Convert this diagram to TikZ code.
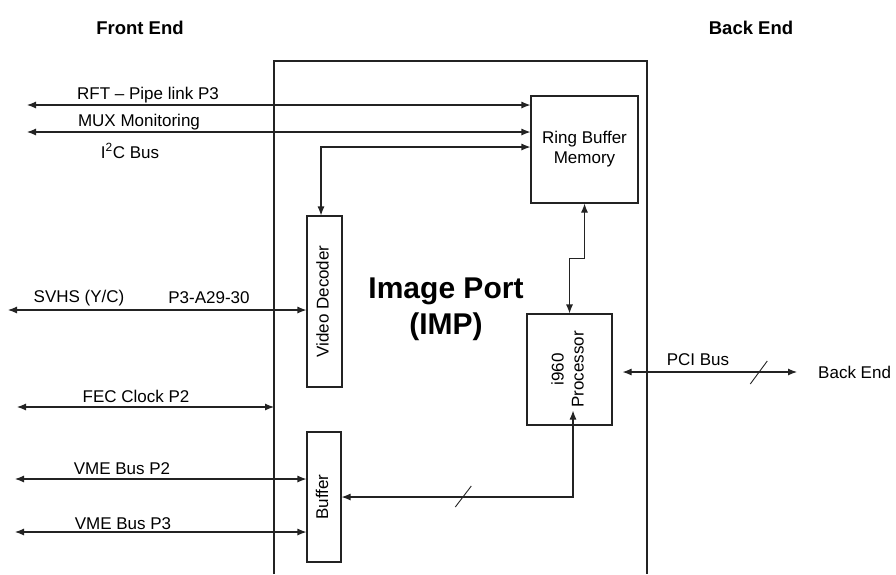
\documentclass[tikz,border=0pt]{standalone}
\usepackage{fontspec}
\setmainfont{Liberation Sans}
\usepackage{graphicx}
\usetikzlibrary{arrows.meta,positioning,calc}
\definecolor{ipedge}{RGB}{35,35,35}
\newcommand{\lblfont}{\fontsize{17}{20}\selectfont}
\newcommand{\hdrfont}{\fontsize{18.5}{22}\selectfont\bfseries}
\newcommand{\vlbl}[1]{\rotatebox{90}{\begin{tabular}{@{}c@{}}#1\end{tabular}}}
\tikzset{
  blk/.style={
    draw=ipedge, line width=1.1pt, inner sep=0pt,
    align=center, font=\lblfont
  },
  arr/.style={-{Latex[length=9pt,width=7pt]}, draw=ipedge, line width=1.1pt},
  darr/.style={{Latex[length=9pt,width=7pt]}-{Latex[length=9pt,width=7pt]},
    draw=ipedge, line width=1.1pt},
  lbl/.style={font=\lblfont, inner sep=0pt},
  hdr/.style={font=\hdrfont, inner sep=0pt},
  slash/.style={draw=ipedge, line width=0.9pt},
  frame/.style={draw=ipedge, line width=1.2pt}
}
\begin{document}
\begin{tikzpicture}[x=1pt, y=-1pt]
  \useasboundingbox (0,0) rectangle (896,574);
  % headings
  \node[hdr] (fe) at (140,28) {Front End};
  \node[hdr] (be) at (751,28) {Back End};
  % board outline (open at the bottom)
  \coordinate (mainnw) at (274,61);
  \coordinate (mainne) at (647,61);
  \draw[frame] (mainnw |- 0,574) -- (mainnw) -- (mainne) -- (mainne |- 0,574);
  \node[font=\fontsize{30}{36}\selectfont\bfseries, align=center, inner sep=0pt]
    (imp) at (446,309) {Image Port\\(IMP)};
  % blocks
  \node[blk, minimum width=107, minimum height=107] (rbm) at (584.5,149.5)
    {Ring Buffer\\Memory};
  \node[blk, minimum width=35, minimum height=171] (vdec) at (324.5,301.5)
    {\vlbl{Video Decoder}};
  \node[blk, minimum width=85, minimum height=111] (proc) at (569.5,369.5)
    {\vlbl{i960\\Processor}};
  \node[blk, minimum width=34, minimum height=130] (buf) at (324,497)
    {\vlbl{Buffer}};
  % front end links
  \coordinate (rftL) at (27,105);
  \coordinate (muxL) at (27,132);
  \coordinate (svL) at (8,310);
  \coordinate (fecL) at (17,407);
  \coordinate (vmeaL) at (15,479);
  \coordinate (vmebL) at (15,532);
  \draw[darr] (rftL) -- (rftL -| rbm.west);
  \draw[darr] (muxL) -- (muxL -| rbm.west);
  \draw[darr] ([xshift=-3.5pt]vdec.north) |- ([yshift=2.5pt]rbm.west);
  \draw[darr] (svL) -- (svL -| vdec.west);
  \draw[darr] (fecL) -- (fecL -| mainnw);
  \draw[darr] (vmeaL) -- (vmeaL -| buf.west);
  \draw[darr] (vmebL) -- (vmebL -| buf.west);
  \node[lbl] (rftT) at (148,95) {RFT -- Pipe link P3};
  \node[lbl] (muxT) at (139,122) {MUX Monitoring};
  \node[lbl] (i2cT) at (130,151) {I\textsuperscript{2}C Bus};
  \node[lbl] (svT) at (79,298) {SVHS (Y/C)};
  \node[lbl] (p3T) at (209,298) {P3-A29-30};
  \node[lbl] (fecT) at (136,396) {FEC Clock P2};
  \node[lbl] (vmeaT) at (122,469) {VME Bus P2};
  \node[lbl] (vmebT) at (123,524) {VME Bus P3};
  % internal links
  \draw[darr] (rbm.south) |- ($(rbm.south)!.5!(proc.north)$) -| (proc.north);
  \draw[darr] ([shift={(3.5pt,15pt)}]proc.south) |- coordinate[pos=0.737] (bsl) (buf.east);
  \draw[slash] ($(bsl)+(-8,10)$) -- ($(bsl)+(8,-11)$);
  % back end link
  \coordinate (pciR) at (797,372);
  \draw[darr, shorten <=10pt] (proc.east |- pciR) -- coordinate[pos=0.79] (psl) (pciR);
  \draw[slash] ($(psl)+(-8,12)$) -- ($(psl)+(9,-11)$);
  \node[lbl] (pciT) at (698,360) {PCI Bus};
  \node[lbl, anchor=west] (beT) at (818,372) {Back End};
\end{tikzpicture}
\end{document}
